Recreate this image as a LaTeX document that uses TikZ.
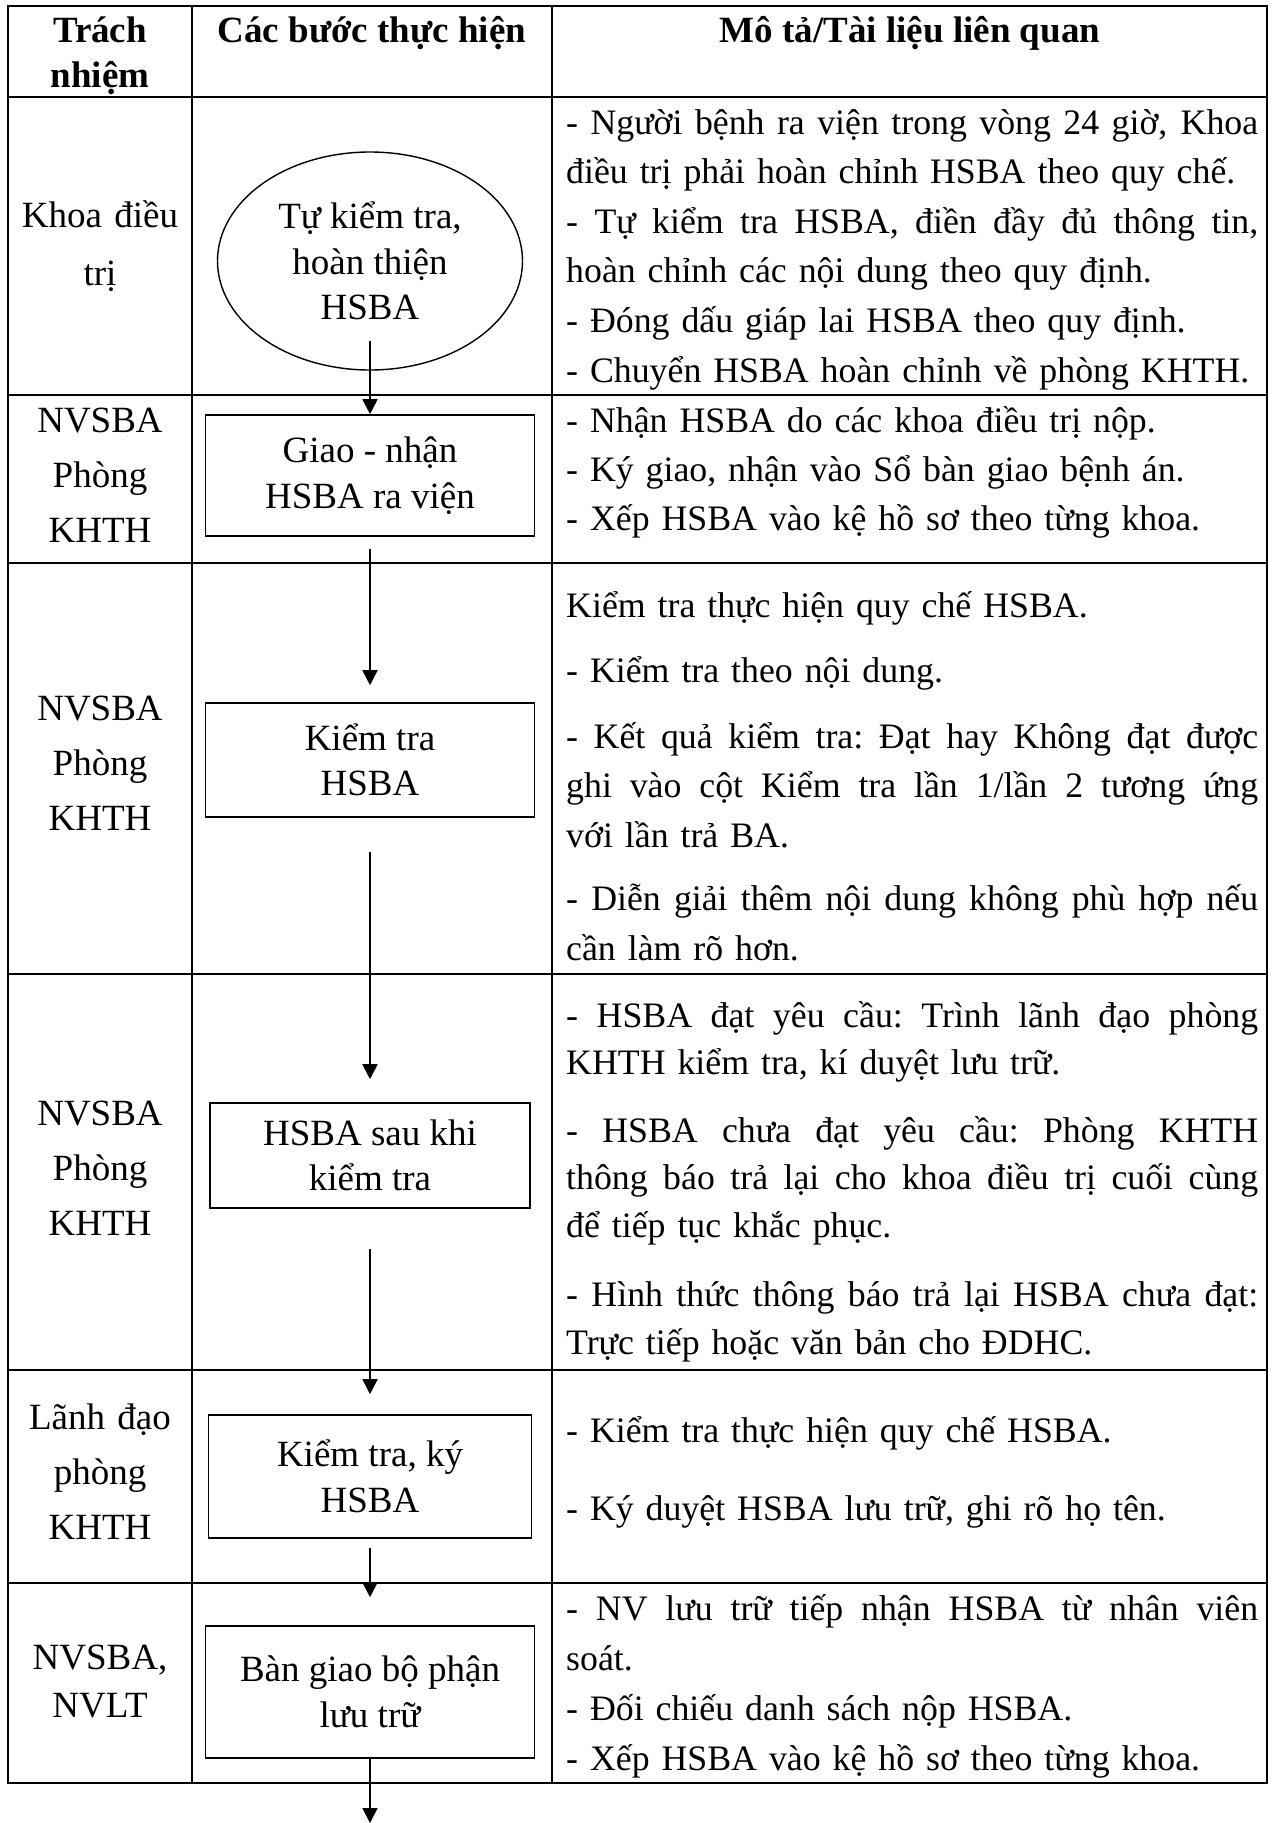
\documentclass[tikz,border=0pt]{standalone}
\usepackage{fontspec}
\setmainfont{Liberation Serif}
\usetikzlibrary{shapes.geometric,arrows.meta,positioning}
\hyphenpenalty=10000
\exhyphenpenalty=10000
\tolerance=9999
\hbadness=10000
\hfuzz=20pt
% one justified line of a description
\newcommand{\fullline}[1]{\leavevmode\hbox to 692pt{\spaceskip=0.25em plus 1fil\xspaceskip=\spaceskip #1}}

\begin{document}
\begin{tikzpicture}[x=1pt,y=-1pt,
	grid/.style={line width=2.6pt},
	head/.style={anchor=base,align=center,inner sep=0pt,font=\fontsize{37}{45}\selectfont\bfseries},
	who/.style={anchor=base,text width=180pt,align=center,inner sep=0pt,font=\fontsize{37}{55}\selectfont},
	desc/.style={anchor=base west,text width=692pt,inner sep=0pt,font=\fontsize{35.8}{49}\selectfont},
	stepbox/.style={draw,line width=1.6pt,minimum width=329pt,align=center,inner sep=0pt,font=\fontsize{37}{45.5}\selectfont},
	startoval/.style={draw,ellipse,line width=1.4pt,minimum width=305pt,minimum height=218pt,align=center,inner sep=0pt,font=\fontsize{37}{45.5}\selectfont},
	flow/.style={line width=1.8pt,-{Triangle[length=15pt,width=15pt]}}]
			\useasboundingbox (0,0) rectangle (1272,1823);
			
			% table
			\draw[grid] (8,6) rectangle (1267,1783);
			\foreach \x in {192,552} \draw[grid] (\x,6) -- (\x,1783);
			\foreach \y in {97,395,563,974,1370,1583} \draw[grid] (8,\y) -- (1267,\y);
			
			\node[head,text width=180pt] (hwho) at (100,42) {Trách\\nhiệm};
			\node[head] (hstep) at (372,42) {Các bước thực hiện};
			\node[head] (hdesc) at (910,42) {Mô tả/Tài liệu liên quan};
			
			% steps
			\node[startoval] (tukt) at (370,261) {Tự kiểm tra,\\hoàn thiện\\HSBA};
			\node[stepbox,minimum height=121pt] (giao) at (370,475.5) {Giao - nhận\\HSBA ra viện};
			\node[stepbox,minimum height=114pt] (ktra) at (370,760) {Kiểm tra\\HSBA};
			\node[stepbox,minimum width=320pt,minimum height=105pt] (sau) at (370,1155.5) {HSBA sau khi\\kiểm tra};
			\node[stepbox,minimum width=323pt,minimum height=123pt] (ky) at (370,1476.5) {Kiểm tra, ký\\HSBA};
			\node[stepbox,minimum height=132pt] (bangiao) at (370,1692) {Bàn giao bộ phận\\lưu trữ};
			\coordinate (tail) at (370,1823);
			
			\draw[flow] ([yshift=30pt]tukt.south) -- (giao.north);
			\draw[flow] ([yshift=-12pt]giao.south) -- ([yshift=17pt]ktra.north);
			\draw[flow] ([yshift=-34pt]ktra.south) -- ([yshift=23pt]sau.north);
			\draw[flow] ([yshift=-40pt]sau.south) -- ([yshift=20pt]ky.north);
			\draw[flow] ([yshift=-9pt]ky.south) -- ([yshift=28pt]bangiao.north);
			\draw[flow] (bangiao.south) -- (tail);
			
			% who
			\node[who,font=\fontsize{37}{58}\selectfont] (w1) at (100,227) {Khoa điều\\trị};
			\node[who] (w2) at (100,432) {NVSBA\\Phòng\\KHTH};
			\node[who] (w3) at (100,720) {NVSBA\\Phòng\\KHTH};
			\node[who] (w4) at (100,1125) {NVSBA\\Phòng\\KHTH};
			\node[who] (w5) at (100,1429) {Lãnh đạo\\phòng\\KHTH};
			\node[who,font=\fontsize{37}{48}\selectfont] (w6) at (100,1669) {NVSBA,\\NVLT};
			
			% descriptions
			\node[desc,font=\fontsize{35.8}{49.6}\selectfont] (d1) at (566,134) {\fullline{- Người bệnh ra viện trong vòng 24 giờ, Khoa}\\điều trị phải hoàn chỉnh HSBA theo quy chế.\\\fullline{- Tự kiểm tra HSBA, điền đầy đủ thông tin,}\\hoàn chỉnh các nội dung theo quy định.\\- Đóng dấu giáp lai HSBA theo quy định.\\- Chuyển HSBA hoàn chỉnh về phòng KHTH.};
			\node[desc] (d2) at (566,432) {- Nhận HSBA do các khoa điều trị nộp.\\- Ký giao, nhận vào Sổ bàn giao bệnh án.\\- Xếp HSBA vào kệ hồ sơ theo từng khoa.};
			\node[desc,font=\fontsize{35.8}{49.5}\selectfont] (d3) at (566,617) {Kiểm tra thực hiện quy chế HSBA.\\[16pt]- Kiểm tra theo nội dung.\\[16pt]\fullline{- Kết quả kiểm tra: Đạt hay Không đạt được}\\\fullline{ghi vào cột Kiểm tra lần 1/lần 2 tương ứng}\\với lần trả BA.\\[14pt]\fullline{- Diễn giải thêm nội dung không phù hợp nếu}\\cần làm rõ hơn.};
			\node[desc,font=\fontsize{35.8}{47.5}\selectfont] (d4) at (566,1027) {\fullline{- HSBA đạt yêu cầu: Trình lãnh đạo phòng}\\KHTH kiểm tra, kí duyệt lưu trữ.\\[20pt]\fullline{- HSBA chưa đạt yêu cầu: Phòng KHTH}\\\fullline{thông báo trả lại cho khoa điều trị cuối cùng}\\để tiếp tục khắc phục.\\[22pt]\fullline{- Hình thức thông báo trả lại HSBA chưa đạt:}\\Trực tiếp hoặc văn bản cho ĐDHC.};
			\node[desc] (d5) at (566,1442) {- Kiểm tra thực hiện quy chế HSBA.\\[29pt]- Ký duyệt HSBA lưu trữ, ghi rõ họ tên.};
			\node[desc,font=\fontsize{35.8}{50}\selectfont] (d6) at (566,1620) {\fullline{- NV lưu trữ tiếp nhận HSBA từ nhân viên}\\soát.\\- Đối chiếu danh sách nộp HSBA.\\- Xếp HSBA vào kệ hồ sơ theo từng khoa.};
\end{tikzpicture}
\end{document}
